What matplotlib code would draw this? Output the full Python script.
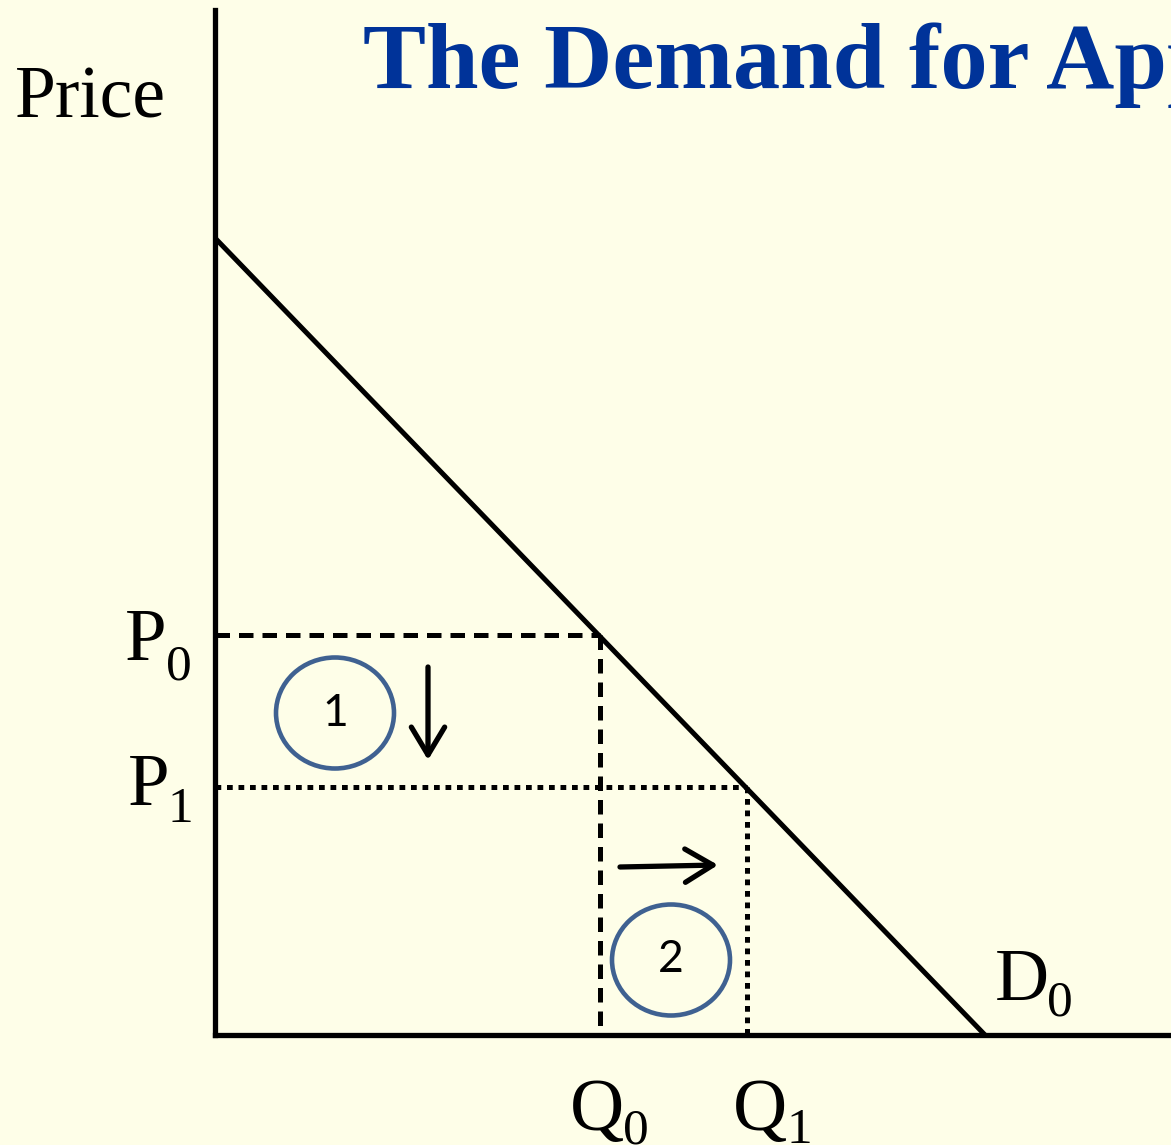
import matplotlib
matplotlib.use("Agg")
import matplotlib.pyplot as plt
from matplotlib.patches import Ellipse, FancyArrowPatch

# ---- data (chart units: quantity on x, price on y) ----
demand_q = [0, 770]          # demand line endpoints (quantity)
demand_p = [797, 0]          # demand line endpoints (price)
P0, Q0 = 400, 385
P1, Q1 = 248, 532
x_max, y_max = 956, 1025
title = "The Demand for Apples"
price_label = "Price"
curve_label = ("D", "0")
circle_centers = [(120, 322), (456, 75)]
circle_texts = ["1", "2"]
arrow1 = [(213, 368), (213, 275)]
arrow2 = [(405, 168), (503, 170)]

BG = "#FEFEE8"
BLUE_T = "#003399"
CIRC = "#3F6191"
SERIF = "Liberation Serif"

fig = plt.figure(figsize=(11.71, 11.45), dpi=100, facecolor=BG)
ax = fig.add_axes([215 / 1171, 110 / 1145, 956 / 1171, 1025 / 1145])
ax.set_facecolor(BG)
ax.set_xlim(0, x_max)
ax.set_ylim(0, y_max)
for s in ["top", "right"]:
    ax.spines[s].set_visible(False)
for s in ["left", "bottom"]:
    ax.spines[s].set_linewidth(3.8)
    ax.spines[s].set_color("black")
ax.set_xticks([])
ax.set_yticks([])

lw = 3.6
ax.plot(demand_q, demand_p, color="black", lw=lw, solid_capstyle="butt", clip_on=False)
ax.plot([0, Q0], [P0, P0], color="black", lw=lw, linestyle=(0, (2.9, 1.8)), dash_capstyle="butt")
ax.plot([Q0, Q0], [P0, 0], color="black", lw=lw, linestyle=(0, (2.9, 1.8)), dash_capstyle="butt")
ax.plot([0, Q1], [P1, P1], color="black", lw=lw, linestyle=(0, (1.15, 1.15)), dash_capstyle="butt")
ax.plot([Q1, Q1], [P1, 0], color="black", lw=lw, linestyle=(0, (1.15, 1.15)), dash_capstyle="butt")

for (cx, cy), t in zip(circle_centers, circle_texts):
    ax.add_patch(Ellipse((cx, cy), 118, 111, fill=False, edgecolor=CIRC, lw=3.3))
    ax.text(cx, cy, t, fontsize=32, family="Lato", ha="center", va="center", color="black")

for (a, b) in [arrow1, arrow2]:
    ax.add_patch(FancyArrowPatch(a, b, arrowstyle="->,head_length=1.0,head_width=0.6",
                                 mutation_scale=20, lw=3.8, color="black",
                                 shrinkA=0, shrinkB=0, capstyle="round", joinstyle="round"))

# texts
ax.text(-200, 918, price_label, fontsize=53, family=SERIF, ha="left", va="baseline", clip_on=False)
ax.text(148, 947, title, fontsize=68, family=SERIF, fontweight="bold", color=BLUE_T,
        ha="left", va="baseline", clip_on=False)

# P labels
ax.text(-90, P0 - 25, "P", fontsize=54, family=SERIF, ha="left", va="baseline")
ax.text(-49, P0 - 45, "0", fontsize=37, family=SERIF, ha="left", va="baseline")
ax.text(-87, P1 - 18, "P", fontsize=54, family=SERIF, ha="left", va="baseline")
ax.text(-47, P1 - 35, "1", fontsize=37, family=SERIF, ha="left", va="baseline")
# Q labels
ax.text(Q0 - 30, -95, "Q", fontsize=54, family=SERIF, ha="left", va="baseline", clip_on=False)
ax.text(Q0 + 23, -108, "0", fontsize=37, family=SERIF, ha="left", va="baseline", clip_on=False)
ax.text(Q1 - 14, -95, "Q", fontsize=54, family=SERIF, ha="left", va="baseline", clip_on=False)
ax.text(Q1 + 40, -108, "1", fontsize=37, family=SERIF, ha="left", va="baseline", clip_on=False)
# D label
ax.text(780, 35, curve_label[0], fontsize=54, family=SERIF, ha="left", va="baseline")
ax.text(832, 20, curve_label[1], fontsize=37, family=SERIF, ha="left", va="baseline")

fig.savefig("out.png", dpi=100, facecolor=BG)
